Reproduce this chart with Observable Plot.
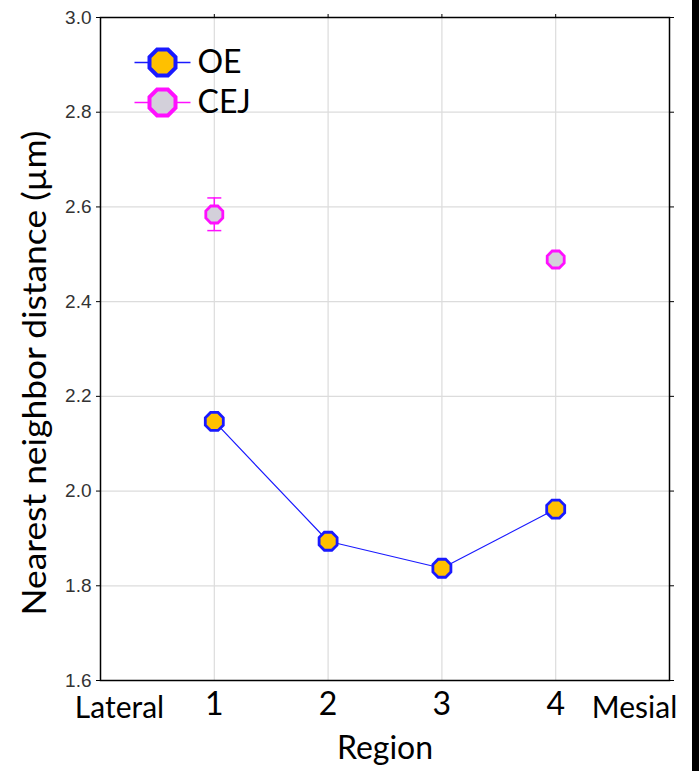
<!DOCTYPE html>
<html>
<head>
<meta charset="utf-8">
<script src="https://cdn.jsdelivr.net/npm/d3@7"></script>
<script src="https://cdn.jsdelivr.net/npm/@observablehq/plot@0.6"></script>
<style>
  html, body { margin: 0; padding: 0; background: white; }
  #wrap { display: flex; width: 699px; height: 771px; }
  #bar { width: 7px; height: 771px; background: black; }
</style>
</head>
<body>
<div id="wrap"><div id="chart"></div><div id="bar"></div></div>
<script>
const regions = [1, 2, 3, 4];
const oeMean = [2.147, 1.894, 1.837, 1.962];
const cejRegions = [1, 4];
const cejMean = [2.584, 2.489];
const cejLo = [2.550, 2.483];
const cejHi = [2.619, 2.495];
const yTicks = [1.6, 1.8, 2.0, 2.2, 2.4, 2.6, 2.8, 3.0];
const xTicks = [1, 2, 3, 4];
const seriesNames = ["OE", "CEJ"];
const seriesFill = ["#FFC000", "#D3D0DA"];
const seriesStroke = ["#1a1aff", "#ff10ff"];
const yLabel = "Nearest neighbor distance (µm)";
const xLabel = "Region";
const leftEnd = "Lateral";
const rightEnd = "Mesial";

const oe = regions.map((r, i) => ({x: r, y: oeMean[i]}));
const cej = cejRegions.map((r, i) => ({x: r, y: cejMean[i], lo: cejLo[i], hi: cejHi[i]}));

const hline = (half) => ({draw(ctx) { ctx.moveTo(-half, 0); ctx.lineTo(half, 0); }});
const octagon = {
  draw(ctx, size) {
    const R = Math.sqrt(size / Math.PI) / Math.cos(Math.PI / 8);
    for (let k = 0; k < 8; k++) {
      const a = Math.PI / 8 + k * Math.PI / 4;
      const px = R * Math.cos(a), py = R * Math.sin(a);
      if (k === 0) ctx.moveTo(px, py); else ctx.lineTo(px, py);
    }
    ctx.closePath();
  }
};
const bigFont = "Lato, 'Open Sans', sans-serif";
const bigSize = 32;

const legendMarks = seriesNames.flatMap((name, i) => [
  Plot.dot([name], {frameAnchor: "top-left", dx: 62, dy: 45 + i * 40, symbol: hline(28), r: 1, stroke: seriesStroke[i], strokeWidth: 1.5}),
  Plot.dot([name], {frameAnchor: "top-left", dx: 62, dy: 45 + i * 40, r: 13, symbol: octagon, fill: seriesFill[i], stroke: seriesStroke[i], strokeWidth: 4}),
  Plot.text([name], {frameAnchor: "top-left", dx: 97, dy: 45 + i * 40, text: d => d, textAnchor: "start", lineAnchor: "middle", fontSize: 32, fontFamily: bigFont, fill: "black"})
]);

const chart = Plot.plot({
  width: 692,
  height: 771,
  marginLeft: 100,
  marginRight: 23,
  marginTop: 17,
  marginBottom: 91,
  x: {domain: [0, 5]},
  y: {domain: [1.6, 3.0]},
  style: {background: "white", color: "black"},
  marks: [
    Plot.gridX(xTicks, {stroke: "#dcdcdc", strokeOpacity: 1, strokeWidth: 1.2}),
    Plot.gridY(yTicks.slice(1, -1), {stroke: "#dcdcdc", strokeOpacity: 1, strokeWidth: 1.2}),
    Plot.axisY(yTicks, {anchor: "left", tickSize: 4, tickPadding: 5, tickFormat: d => d.toFixed(1), fontSize: 19, fontFamily: "'Liberation Sans', Arial, sans-serif", label: null, fill: "#333"}),
    Plot.axisY(yTicks, {anchor: "right", tickSize: 4, tickFormat: () => "", label: null}),
    Plot.axisX(xTicks, {anchor: "top", tickSize: 4, tickFormat: () => "", label: null}),
    Plot.axisX(xTicks, {anchor: "bottom", tickSize: 0, tickPadding: 12, tickFormat: d => String(d), fontSize: bigSize, fontFamily: bigFont, label: null, fill: "black"}),
    Plot.text([leftEnd], {frameAnchor: "bottom-left", dx: 19, dy: 28, text: d => d, textAnchor: "middle", lineAnchor: "middle", fontSize: bigSize - 2, fontFamily: bigFont, fill: "black"}),
    Plot.text([rightEnd], {frameAnchor: "bottom-right", dx: -35, dy: 28, text: d => d, textAnchor: "middle", lineAnchor: "middle", fontSize: bigSize - 2, fontFamily: bigFont, fill: "black"}),
    Plot.text([xLabel], {frameAnchor: "bottom", dy: 68, text: d => d, textAnchor: "middle", lineAnchor: "middle", fontSize: bigSize, fontFamily: bigFont, fill: "black"}),
    Plot.text([yLabel], {frameAnchor: "left", dx: -65, dy: 24, rotate: -90, text: d => d, textAnchor: "middle", lineAnchor: "middle", fontSize: 33, fontFamily: bigFont, fill: "black", className: "ylab"}),
    Plot.frame({stroke: "black", strokeWidth: 1.5}),
    Plot.ruleX(cej, {x: "x", y1: "lo", y2: "hi", stroke: seriesStroke[1], strokeWidth: 1.5}),
    Plot.dot(cej, {x: "x", y: "lo", symbol: hline(7), r: 1, stroke: seriesStroke[1], strokeWidth: 1.5}),
    Plot.dot(cej, {x: "x", y: "hi", symbol: hline(7), r: 1, stroke: seriesStroke[1], strokeWidth: 1.5}),
    Plot.line(oe, {x: "x", y: "y", stroke: seriesStroke[0], strokeWidth: 1.2}),
    Plot.dot(oe, {x: "x", y: "y", r: 9, symbol: octagon, fill: seriesFill[0], stroke: seriesStroke[0], strokeWidth: 2.8}),
    Plot.dot(cej, {x: "x", y: "y", r: 8.5, symbol: octagon, fill: seriesFill[1], stroke: seriesStroke[1], strokeWidth: 2.8}),
    ...legendMarks
  ]
});
document.getElementById("chart").appendChild(chart);
// fit the long rotated axis title to the reference's span
d3.select(chart).selectAll(".ylab text").attr("textLength", 485).attr("lengthAdjust", "spacingAndGlyphs");
</script>
</body>
</html>
